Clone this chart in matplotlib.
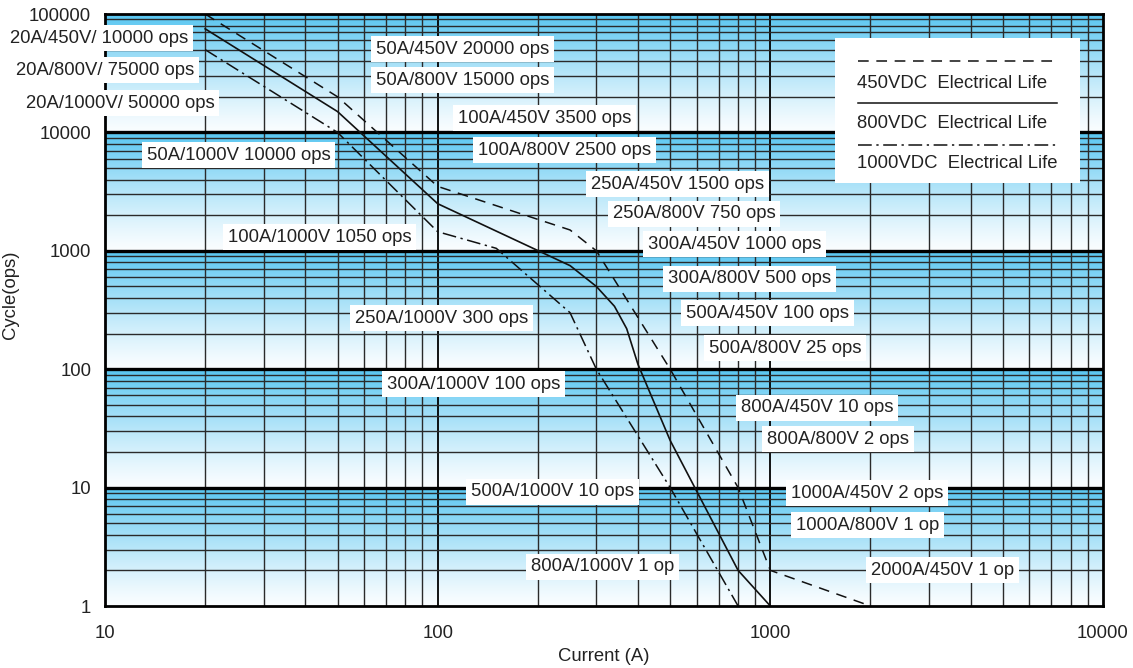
import matplotlib.pyplot as plt
import matplotlib
import numpy as np
from matplotlib.patches import Rectangle
from matplotlib.lines import Line2D

plt.rcParams['font.family'] = ['Liberation Sans', 'DejaVu Sans']

# Courbes de durée de vie électrique (courant A -> cycles)
i450 = [20, 50, 100, 250, 300, 500, 800, 1000, 2000]
c450 = [100000, 20000, 3500, 1500, 1000, 100, 10, 2, 1]

i800 = [20, 50, 100, 250, 300, 340, 370, 400, 500, 800, 1000]
c800 = [75000, 15000, 2500, 750, 500, 340, 220, 110, 25, 2, 1]

i1000 = [20, 50, 100, 150, 250, 300, 500, 800]
c1000 = [50000, 10000, 1450, 1050, 300, 100, 10, 1]

labels = ['20A/450V/ 10000 ops', '20A/800V/ 75000 ops', '20A/1000V/ 50000 ops',
          '50A/1000V 10000 ops', '50A/450V 20000 ops', '50A/800V 15000 ops',
          '100A/450V 3500 ops', '100A/800V 2500 ops', '250A/450V 1500 ops',
          '250A/800V 750 ops', '100A/1000V 1050 ops', '300A/450V 1000 ops',
          '300A/800V 500 ops', '250A/1000V 300 ops', '500A/450V 100 ops',
          '500A/800V 25 ops', '300A/1000V 100 ops', '800A/450V 10 ops',
          '800A/800V 2 ops', '500A/1000V 10 ops', '1000A/450V 2 ops',
          '1000A/800V 1 op', '800A/1000V 1 op', '2000A/450V 1 op']

legend_txt = ['450VDC  Electrical Life', '800VDC  Electrical Life',
              '1000VDC  Electrical Life']

xticks = [10, 100, 1000, 10000]
yticks = [1, 10, 100, 1000, 10000, 100000]

# position des étiquettes (fraction des axes, bord gauche / centre)
label_pos = [(-0.0952, 0.9595), (-0.0892, 0.9054), (-0.0792, 0.8497),
             (0.0421, 0.7618), (0.2715, 0.9409), (0.2715, 0.8885),
             (0.3537, 0.8243), (0.3737, 0.7703), (0.4870, 0.7128),
             (0.5090, 0.6622), (0.1232, 0.6233), (0.5441, 0.6115),
             (0.5641, 0.5524), (0.2505, 0.4865), (0.5822, 0.4949),
             (0.6052, 0.4358), (0.2826, 0.3750), (0.6373, 0.3345),
             (0.6633, 0.2821), (0.3667, 0.1926), (0.6874, 0.1909),
             (0.6924, 0.1368), (0.4269, 0.0659), (0.7675, 0.0608)]

fig = plt.figure(figsize=(11.33, 6.68), dpi=100)
ax = fig.add_axes([0.0927, 0.0928, 0.8808, 0.8862])
ax.set_xscale('log')
ax.set_yscale('log')
ax.set_xlim(10, 10000)
ax.set_ylim(1, 100000)

# fond en dégradé : bleu en haut de chaque décade, blanc en bas
n = 200
top = np.array([0x58, 0xc6, 0xf1]) / 255
bot = np.array([0xfa, 0xfd, 0xff]) / 255
t = np.linspace(0, 1, n)[:, None] ** 1.25
band = bot * (1 - t) + top * t
grad = np.vstack([band] * 5)[::-1]
ax.imshow(grad[:, None, :], extent=[0, 1, 0, 1], transform=ax.transAxes,
          aspect='auto', zorder=0, interpolation='bilinear')

# grille
for d in [10, 100, 1000]:
    for k in range(2, 10):
        ax.axvline(d * k, color='#2a2a2a', lw=1.0, zorder=1)
    if d > 10:
        ax.axvline(d, color='black', lw=1.3, zorder=1)
for d in [1, 10, 100, 1000, 10000]:
    for k in range(2, 10):
        ax.axhline(d * k, color='#2a2a2a', lw=1.0, zorder=1)
    if d > 1:
        ax.axhline(d, color='black', lw=2.4, zorder=1)

ax.plot(i450, c450, color='#111111', lw=1.1, dashes=(7, 5), zorder=3)
ax.plot(i800, c800, color='#111111', lw=1.2, zorder=3)
ax.plot(i1000, c1000, color='#111111', lw=1.1, dashes=(9, 3, 1.5, 3),
        zorder=3)

for s, (fx, fy) in zip(labels, label_pos):
    ax.text(fx, fy, s, transform=ax.transAxes, fontsize=13.3, color='#222222',
            ha='left', va='center', zorder=6, clip_on=False,
            bbox=dict(boxstyle='square,pad=0.25', fc='white', ec='none'))

# légende
ax.add_patch(Rectangle((0.7315, 0.7145), 0.2455, 0.245, transform=ax.transAxes,
                       fc='white', ec='none', zorder=5))
ly = [0.9206, 0.8497, 0.7787]
ty = [0.8834, 0.8159, 0.7483]
styles = [dict(dashes=(7, 5)), dict(), dict(dashes=(9, 3, 1.5, 3))]
for k in range(3):
    ax.add_line(Line2D([0.7545, 0.9539], [ly[k], ly[k]], transform=ax.transAxes,
                       color='#111111', lw=1.1, zorder=6, **styles[k]))
    ax.text(0.7535, ty[k], legend_txt[k], transform=ax.transAxes, fontsize=13.3,
            color='#222222', va='center', ha='left', zorder=6)

for sp in ax.spines.values():
    sp.set_linewidth(2)
    sp.set_zorder(4)

ax.set_xticks(xticks)
ax.set_xticklabels([str(v) for v in xticks])
ax.set_yticks(yticks)
ax.set_yticklabels([str(v) for v in yticks])
ax.minorticks_off()
ax.tick_params(length=0, labelsize=13.3, colors='#222222')
ax.tick_params(axis='x', pad=14)
ax.tick_params(axis='y', pad=10)
ax.set_xlabel('Current (A)', fontsize=13.3, color='#222222', labelpad=4)
ax.set_ylabel('Cycle(ops)', fontsize=13.3, color='#222222')
ax.yaxis.set_label_coords(-0.0862, 0.525)

plt.savefig('out.png', dpi=100)
